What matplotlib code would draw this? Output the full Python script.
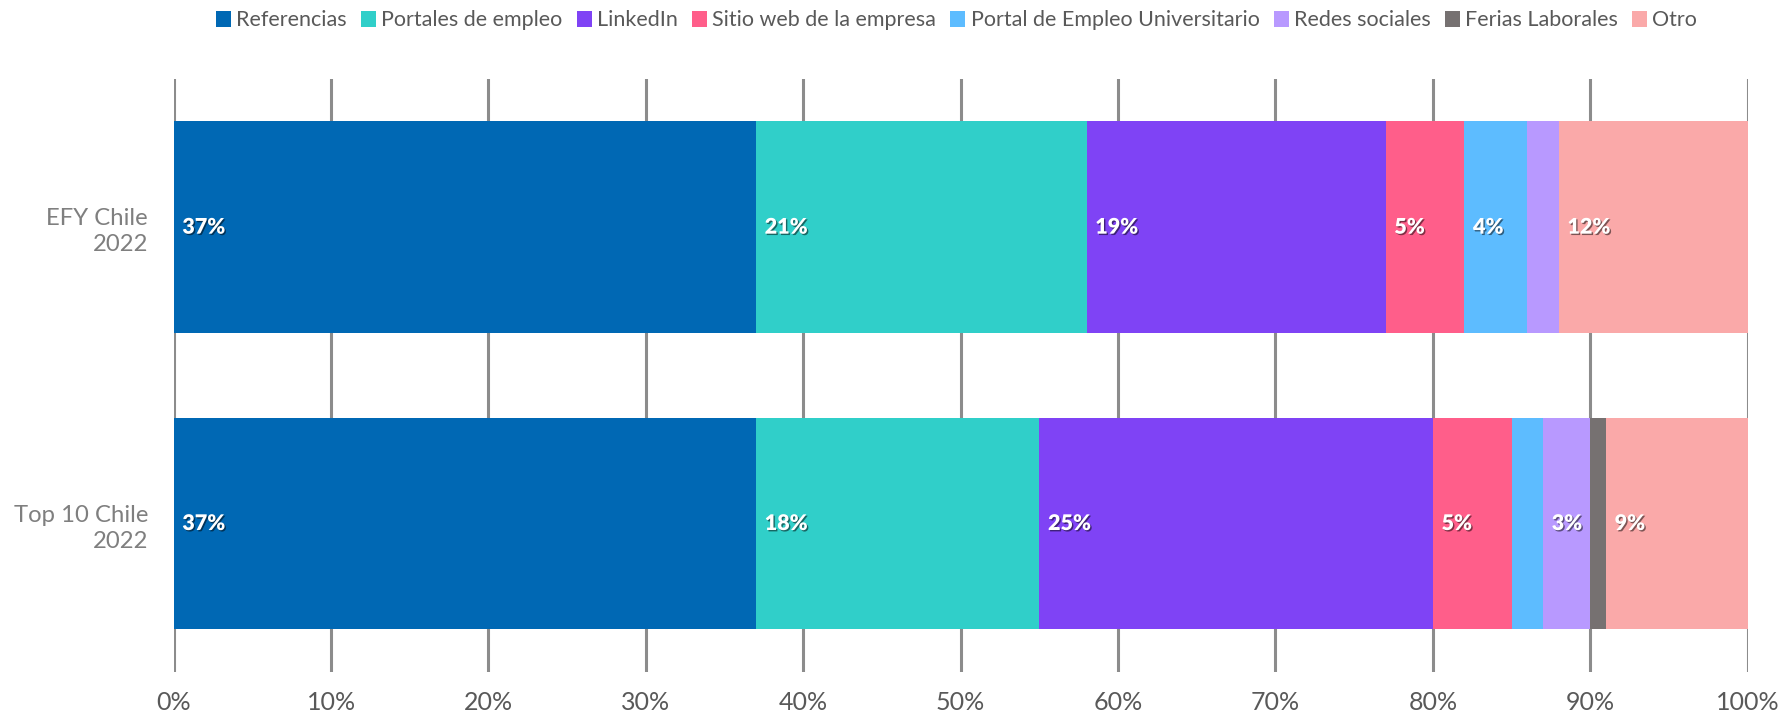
import matplotlib
matplotlib.use("Agg")
import matplotlib.pyplot as plt
import matplotlib.patheffects as pe
import numpy as np

plt.rcParams['font.family'] = ['Lato', 'DejaVu Sans']

categories = ["EFY Chile\n2022", "Top 10 Chile\n2022"]
series_names = ["Referencias", "Portales de empleo", "LinkedIn", "Sitio web de la empresa",
                "Portal de Empleo Universitario", "Redes sociales", "Ferias Laborales", "Otro"]
efy_values = [37, 21, 19, 5, 4, 2, 0, 12]
top10_values = [37, 18, 25, 5, 2, 3, 1, 9]
colors = ["#0068B4", "#30CFC9", "#7F43F5", "#FF5E8A", "#5DBCFF", "#B899FF", "#767171", "#FAA9A9"]
xtick_labels = [f"{v}%" for v in range(0, 101, 10)]

values = np.array([efy_values, top10_values], dtype=float)

fig = plt.figure(figsize=(17.83, 7.15), dpi=100)
ax = fig.add_axes([0.0974, 0.0606, 0.8828, 0.8289])

y = np.arange(len(categories))
left = np.zeros(len(categories))
for i, name in enumerate(series_names):
    ax.barh(y, values[:, i], left=left, height=0.7146, color=colors[i], label=name, zorder=3)
    for j in range(len(categories)):
        v = values[j, i]
        if v >= 3:
            ax.text(left[j] + 0.55, y[j], f"{int(v)}%", color="white", fontsize=15.5,
                    fontweight="heavy", va="center", ha="left", zorder=5,
                    path_effects=[pe.withSimplePatchShadow(offset=(1, -1), shadow_rgbFace="black", alpha=0.5)])
    left += values[:, i]

ax.set_xlim(0, 100)
ax.set_ylim(1.5, -0.5)
ax.set_xticks(range(0, 101, 10))
ax.set_xticklabels(xtick_labels, fontsize=18, color="#595959")
ax.set_yticks(y)
ax.set_yticklabels(categories, fontsize=17.2, color="#7F7F7F", ha="right", linespacing=1.3)
ax.tick_params(axis='both', length=0)
ax.tick_params(axis='x', pad=14)
ax.tick_params(axis='y', pad=18.5)
for s in ax.spines.values():
    s.set_visible(False)
ax.grid(axis='x', color="#8C8C8C", linewidth=2.2, zorder=0)
ax.set_axisbelow(True)

leg = fig.legend(loc="center", bbox_to_anchor=(0.5365, 1 - 20.5 / 715), ncol=8, frameon=False,
                 fontsize=15.5, handlelength=0.7, handleheight=0.7, handletextpad=0.25,
                 columnspacing=0.65, borderaxespad=0.0)
for t in leg.get_texts():
    t.set_color("#595959")

fig.savefig("out.png", dpi=100)
